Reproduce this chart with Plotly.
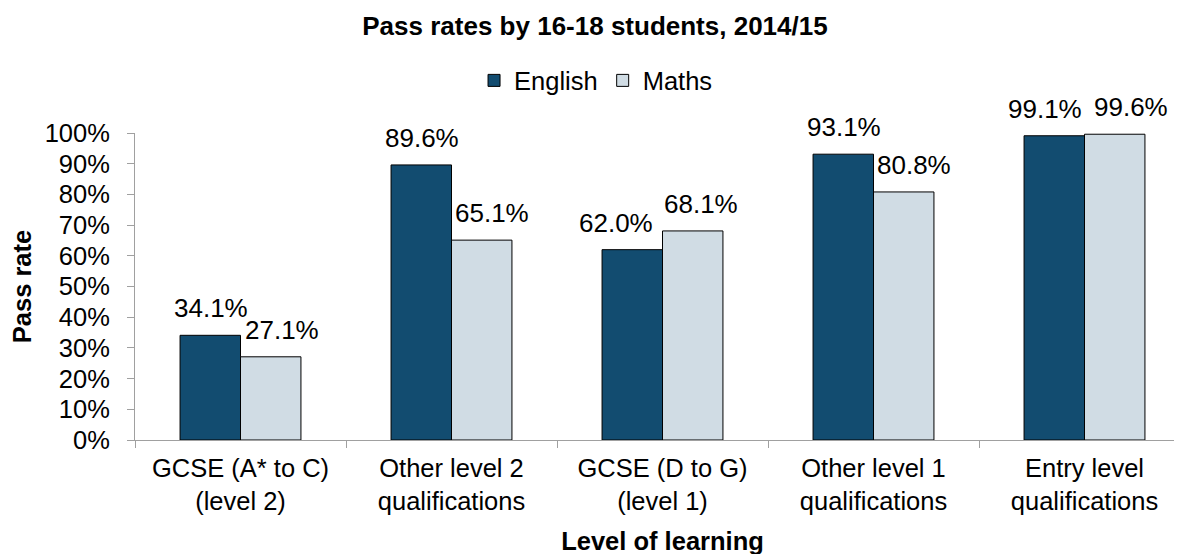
import plotly.graph_objects as go

categories = [
    "GCSE (A* to C)<br>(level 2)",
    "Other level 2<br>qualifications",
    "GCSE (D to G)<br>(level 1)",
    "Other level 1<br>qualifications",
    "Entry level<br>qualifications",
]
english = [34.1, 89.6, 62.0, 93.1, 99.1]
maths = [27.1, 65.1, 68.1, 80.8, 99.6]

# horizontal nudges of the data labels (px), as placed in the original chart
english_nudge = [0, 0, -17, 0, -10]
maths_nudge = [11, 10, 8, 10, 16]

font = "Liberation Sans, Arial, sans-serif"
fs = 25.5
bar_px = 60  # width of one bar in px, used to centre labels over each bar

fig = go.Figure()
fig.add_trace(go.Bar(
    x=categories, y=english, name="English",
    marker=dict(color="#124C70", line=dict(color="black", width=1)),
))
fig.add_trace(go.Bar(
    x=categories, y=maths, name="Maths",
    marker=dict(color="#D0DCE4", line=dict(color="black", width=1)),
))

# data labels
for cat, e, m, ne, nm in zip(categories, english, maths, english_nudge, maths_nudge):
    for val, shift in ((e, -bar_px / 2 + ne), (m, bar_px / 2 + nm)):
        fig.add_annotation(
            x=cat, y=val, xref="x", yref="y",
            text=f"{val:.1f}%", showarrow=False,
            xanchor="center", yanchor="bottom",
            xshift=shift, yshift=10,
            font=dict(size=26, color="black"),
        )

fig.update_layout(
    width=1182, height=554,
    paper_bgcolor="white", plot_bgcolor="white",
    font=dict(family=font, size=fs, color="black"),
    margin=dict(l=127, r=0, t=125, b=122, autoexpand=False),
    barmode="group", bargap=0.427, bargroupgap=0,
    title=dict(text="<b>Pass rates by 16-18 students, 2014/15</b>",
               x=0.4966, xanchor="center", xref="container",
               y=1 - 18 / 554, yanchor="middle", yref="container",
               font=dict(size=26)),
    legend=dict(orientation="h", x=0.437, xanchor="center", y=1.17, yanchor="middle",
                font=dict(size=fs), itemwidth=30, traceorder="normal"),
    showlegend=True,
)
fig.update_xaxes(
    showline=True, linecolor="#A0A0A0", linewidth=1,
    ticks="outside", tickson="boundaries", ticklen=7, tickcolor="#A0A0A0",
    ticklabelstandoff=5,
    tickfont=dict(size=fs), automargin=False,
    title=dict(text="<b>Level of learning</b>", font=dict(size=fs), standoff=18),
)
fig.update_yaxes(
    range=[0, 100], dtick=10, ticksuffix="%",
    showline=True, linecolor="#A0A0A0", linewidth=1,
    ticks="outside", ticklen=7, tickcolor="#A0A0A0",
    ticklabelstandoff=12,
    showgrid=False, zeroline=False, automargin=False,
    tickfont=dict(size=fs),
    title=dict(text="<b>Pass rate</b>", font=dict(size=fs), standoff=10),
)

fig.write_html("out.html")
